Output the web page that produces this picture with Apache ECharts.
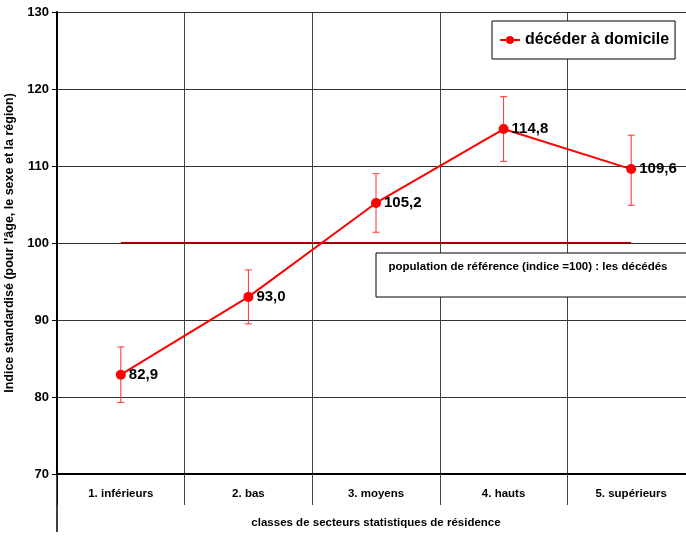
<!DOCTYPE html>
<html><head><meta charset="utf-8">
<script src="https://cdn.jsdelivr.net/npm/echarts@6/dist/echarts.min.js"></script>
<style>html,body{margin:0;padding:0;background:#fff}#c{width:686px;height:536px}</style>
</head><body><div id="c"></div>
<script>
const categories = ['1. inférieurs', '2. bas', '3. moyens', '4. hauts', '5. supérieurs'];
const values = [82.9, 93.0, 105.2, 114.8, 109.6];
const lowerCI = [79.3, 89.5, 101.4, 110.6, 104.9];
const upperCI = [86.5, 96.5, 109.0, 119.0, 114.0];
const referenceValue = 100;
const seriesName = 'décéder à domicile';
const refNote = 'population de référence (indice =100) : les décédés';
const yName = "Indice standardisé (pour l'âge, le sexe et la région)";
const xName = 'classes de secteurs statistiques de résidence';

const FONT = '"Liberation Sans", Arial, sans-serif';
const chart = echarts.init(document.getElementById('c'));
chart.setOption({
  animation: false,
  textStyle: { fontFamily: FONT },
  grid: { left: 57, right: -9, top: 12, bottom: 62, containLabel: false, outerBoundsMode: 'none' },
  legend: {
    data: [seriesName], left: 492, top: 21,
    backgroundColor: '#fff', borderColor: '#000', borderWidth: 1,
    padding: [11, 6, 11, 7], itemWidth: 20, itemHeight: 10, itemGap: 5,
    textStyle: { fontFamily: FONT, fontSize: 16, fontWeight: 'bold', color: '#000' }
  },
  xAxis: {
    type: 'category', data: categories, boundaryGap: true,
    axisLine: { lineStyle: { color: '#000', width: 2 } },
    axisTick: { show: true, length: 31, lineStyle: { color: '#444', width: 1 } },
    axisLabel: { color: '#000', fontWeight: 'bold', fontSize: 11.5, margin: 14, fontFamily: FONT },
    splitLine: { show: true, lineStyle: { color: '#444', width: 1 } },
    name: xName, nameLocation: 'middle', nameGap: 43,
    nameTextStyle: { color: '#000', fontWeight: 'bold', fontSize: 11.5, fontFamily: FONT }
  },
  yAxis: {
    type: 'value', min: 70, max: 130, interval: 10,
    axisLine: { show: true, lineStyle: { color: '#000', width: 2 } },
    axisTick: { show: true, length: 5, lineStyle: { color: '#000' } },
    axisLabel: { color: '#000', fontWeight: 'bold', fontSize: 13, margin: 8, fontFamily: FONT },
    splitLine: { show: true, lineStyle: { color: '#333', width: 1 } },
    name: yName, nameLocation: 'middle', nameGap: 35, nameRotate: 90,
    nameTextStyle: { color: '#000', fontWeight: 'bold', fontSize: 12.5, fontFamily: FONT, padding: [0, 0, 0, 0] }
  },
  graphic: [
    { type: 'line', shape: { x1: 57, y1: 474, x2: 57, y2: 532 }, style: { stroke: '#000', lineWidth: 1.5 }, z: 10 },
    { type: 'rect', shape: { x: 376, y: 253, width: 322, height: 44 }, style: { fill: '#fff', stroke: '#000', lineWidth: 1 }, z: 10 },
    { type: 'text', x: 528, y: 261, z: 11, style: { text: refNote, align: 'center', textAlign: 'center', fill: '#000', font: 'bold 11.5px ' + FONT } }
  ],
  series: [
    {
      name: 'ref', type: 'line', data: [], silent: true,
      markLine: {
        symbol: 'none', silent: true, label: { show: false },
        lineStyle: { color: '#a00000', width: 2, type: 'solid' },
        data: [[{ coord: [0, referenceValue] }, { coord: [categories.length - 1, referenceValue] }]]
      }
    },
    {
      name: 'ci', type: 'custom', z: 3,
      data: categories.map((c, i) => [i, lowerCI[i], upperCI[i]]),
      renderItem: function (params, api) {
        const lo = api.coord([api.value(0), api.value(1)]);
        const hi = api.coord([api.value(0), api.value(2)]);
        const w = 3.5;
        const st = { stroke: '#ff3030', lineWidth: 1 };
        return { type: 'group', children: [
          { type: 'line', shape: { x1: lo[0], y1: lo[1], x2: hi[0], y2: hi[1] }, style: st },
          { type: 'line', shape: { x1: lo[0] - w, y1: lo[1], x2: lo[0] + w, y2: lo[1] }, style: st },
          { type: 'line', shape: { x1: hi[0] - w, y1: hi[1], x2: hi[0] + w, y2: hi[1] }, style: st }
        ]};
      }
    },
    {
      name: seriesName, type: 'line', data: values, z: 5,
      symbol: 'circle', symbolSize: 10,
      itemStyle: { color: '#ff0000' },
      lineStyle: { color: '#ff0000', width: 2 },
      label: {
        show: true, position: 'right', distance: 3, color: '#000',
        fontWeight: 'bold', fontSize: 15, fontFamily: FONT,
        formatter: p => p.value.toFixed(1).replace('.', ',')
      }
    }
  ]
});
</script></body></html>
